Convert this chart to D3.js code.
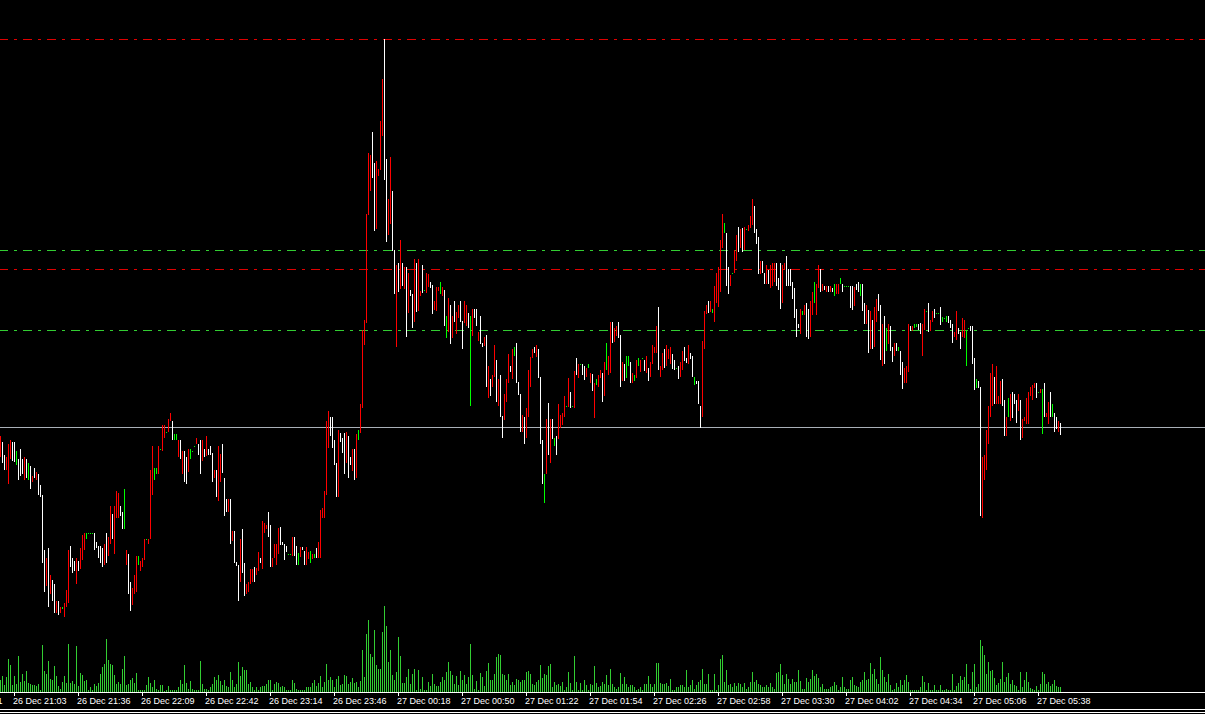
<!DOCTYPE html>
<html><head><meta charset="utf-8">
<script src="https://cdn.jsdelivr.net/npm/d3@7"></script>
<style>html,body{margin:0;padding:0;background:#000;overflow:hidden}</style>
</head><body><svg id="c" width="1205" height="714"></svg>
<script>
const highs = [
264,258,245,243,256,260,258,258,249,241, 251,241,243,241,237,234,224,232,228,226,
215,205,150,142,152,125,120,116,99,99, 93,93,97,110,150,154,142,139,142,139,
152,165,167,167,167,167,167,167,158,154, 154,152,156,167,163,194,186,194,209,207,
194,188,211,150,146,118,112,125,144,144, 139,142,161,161,161,230,254,232,232,254,
251,275,275,268,281,287,279,266,266,260, 260,249,249,243,251,251,249,254,262,256,
260,260,251,264,251,254,247,230,
230,254,246,256,222,201,201,201,169,169, 138,135,161,171,137,116,118,131,131,133,
132,148,142,179,177,175,188,175,142,156, 156,172,173,158,156,154,146,146,163,163,
154,147,153,153,149,153,148,149,146,146, 152,158,190,192,209,279,289,283,283,260,
237,270,267,262,267,268,264,243,251,251, 266,270,296,370,380,486,547,545,568,537,
539,531,579,621,661,541,501,543,509,450, 435,437,460,437,433,433,427,410,406,441,
437,441,409,435,410,427,426,
418,415,399,413,413,418,413,410,384,402, 395,384,399,388,395,399,379,399,395,387,
384,391,391,391,368,384,357,363,365,334, 321,325,355,340,321,325,284,306,321,346,
334,351,353,357,318,306,285,283,292,330, 343,351,353,355,351,323,260,226,281,297,
281,281,262,264,296,285,287,304,294,322, 308,294,329,342,336,336,336,334,332,336,
327,326,317,321,325,330,327,338,357,344, 378,378,372,374,378,365,338,336,344,344,
338,327,325,340,342,340,342,340,
344,332,338,355,353,374,393,334,347,351, 355,351,353,346,340,332,334,338,349,353,
342,355,347,344,323,319,319,294,359,389, 395,399,399,391,414,427,433,460,486,477,
467,433,425,427,450,465,473,471,472,473, 471,475,484,501,494,471,463,439,439,427,
435,430,435,437,437,437,422,437,435,437, 444,431,431,418,412,391,376,391,389,395,
397,391,399,408,418,416,435,431,416,414, 414,414,414,412,416,416,416,422,416,414,
414,414,414,414,413,416,418,
416,416,397,395,390,389,380,393,401,406, 395,376,384,372,376,374,353,357,357,353,
349,338,332,334,376,374,374,376,376,376, 377,376,391,389,397,380,389,391,387,387,
393,383,382,384,384,380,376,368,389,372, 368,382,380,370,372,374,374,342,321,319,
313,243,245,270,294,327,336,323,334,304, 319,321,300,283,302,306,308,306,300,306,
300,281,283,302,308,313,315,317,317,308, 311,311,317,287,298,308,296,287,283,279,277
];
const lows = [
244,238,231,231,217,242,240,239,236,221, 225,227,221,223,221,212,219,223,221,206,
204,138,109,115,94,107,100,88,88,86, 88,92,84,94,98,134,128,130,117,130,
132,141,151,162,167,167,167,151,153,143, 138,134,136,138,145,157,162,147,183,183,
185,172,172,136,107,90,96,107,109,136, 130,134,141,161,157,162,206,221,227,227,
251,250,263,268,269,280,261,261,261,244, 242,227,219,217,229,242,249,254,257,246,
227,240,244,245,246,246,219,223,
204,200,219,228,185,189,189,157,160,138, 135,100,119,128,105,107,109,117,119,119,
126,130,138,132,168,172,164,134,134,143, 136,147,156,156,141,149,146,146,145,145,
136,136,144,151,136,136,142,138,142,143, 143,143,143,183,183,206,253,265,253,236,
204,204,259,248,227,238,223,236,230,221, 223,261,268,293,356,378,486,510,523,470,
472,525,531,565,521,459,466,477,450,407, 354,409,412,415,412,364,388,405,373,379,
389,390,405,408,410,408,414,
413,387,391,390,410,407,405,375,363,369, 357,363,379,367,383,379,352,378,375,373,
295,365,383,375,360,357,354,355,314,303, 305,314,324,299,295,284,263,281,299,318,
329,322,345,318,306,269,269,257,263,284, 314,343,348,344,323,257,217,198,227,246,
238,262,255,246,262,273,276,284,294,294, 293,294,293,326,323,336,326,321,324,333,
318,310,283,316,314,323,299,305,331,326, 328,358,359,365,363,314,320,320,323,335,
318,318,320,323,335,329,342,330,
328,320,324,337,348,348,331,324,331,333, 335,342,337,332,331,332,322,324,331,340,
338,337,342,324,316,317,297,273,284,352, 387,388,389,388,379,398,394,409,453,468,
415,407,415,427,428,440,449,453,449,451, 471,470,473,476,468,457,427,427,428,417,
417,417,413,415,419,415,411,392,398,431, 415,415,415,402,383,364,373,367,386,386,
364,362,364,386,398,386,413,409,410,411, 409,409,409,409,405,407,407,417,409,414,
414,414,393,391,395,411,409,
405,390,377,377,348,352,352,354,379,390, 341,335,337,350,357,350,339,345,350,350,
326,312,318,318,329,370,370,373,374,371, 367,345,371,389,369,370,379,383,387,387,
376,379,382,379,378,373,358,364,361,367, 352,364,363,335,372,370,337,311,313,313,
185,183,221,231,257,284,295,297,297,297, 297,295,265,265,284,280,283,297,278,290,
261,263,280,277,277,305,301,313,303,308, 308,267,284,284,277,284,284,269,272,269,266
];
// u = up bar, d = down bar, n = unchanged (open == close)
const dirs = (
"udduuuddnd"+"ddudndudud"+"dddududdud"+"unuuudddud"+"uuunnnnddd"+"dduduuduuu"+"ddnudduuun"+"uuunuuunnu"+"nuunuudnnu"+"duddunnnud"+"dududddu"+
"duudddudud"+"ddudduuuud"+"uuduuudduu"+"uuddddnnud"+"dnudduunun"+"duuuuuuddd"+"duddduddud"+"unuuuuuudd"+"uuuudduudd"+"ududududdu"+"duudnuu"+
"dduuunudnu"+"duduudduud"+"nudduddudu"+"duududduuu"+"dunddduduu"+"uudu dddnud".replace(" ","")+"udnduuuunu"+"dnudunddun"+"udunuudunu"+"uduuddudnn"+"dununund"+
"uduuuuduud"+"uuuddnduud"+"duddnddduu"+"udunuuuuun"+"ddunuududu"+"nuuudddudd"+"uduuuddduu"+"dddddddunu"+"dduunuudud"+"ududnuundn"+"nnddudd"+
"nddududuud"+"dudnuddudn"+"dduuudunnd"+"duunduudnn"+"dnnnddduud"+"duunndddnd"+"duuuuuuduu"+"uddunudddu"+"duuuuuuudn"+"unduudnddu"+"d"
).split("");
const volumes = [
12,16,7,15,33,27,7,16,8,36, 10,18,11,21,9,8,7,7,6,8, 2,47,21,18,31,13,12,26,16,6, 3,10,16,9,48,9,11,8,46,6,
19,17,11,12,2,5,2,8,6,9, 18,25,28,53,32,28,27,17,8,10, 8,23,36,7,8,12,14,9,19,2, 2,2,2,7,15,9,5,12,3,2,
7,7,1,2,6,2,2,2,2,5, 12,8,27,9,3,11,3,2,2,2, 31,8,3,3,2,5,8,15,12,17, 11,7,12,6,5,20,12,5,8,30,
16,25,22,22,8,10,5,2,5,2, 5,6,6,8,12,12,2,8,10,9, 5,6,5,2,2,2,12,9,3,2, 2,2,2,5,5,5,9,12,6,9,
16,5,10,28,12,15,12,5,13,16, 7,8,17,16,8,10,14,9,10,5, 11,42,15,58,72,38,35,62,27,23, 23,60,86,66,30,42,17,12,20,55,
36,9,9,15,23,8,18,23,2,22, 3,15,2,2,10,6,18,8,6,6, 10,15,12,20,30,21,17,8,16,7, 21,12,17,8,15,48,17,3,11,2,
19,15,6,21,29,12,12,18,35,38, 37,18,17,12,18,7,10,7,13,12, 10,12,12,20,21,18,8,7,10,12, 27,14,18,17,26,28,5,10,7,8,
6,10,2,5,20,9,2,36,10,2, 9,2,12,7,2,8,7,26,9,5, 6,10,8,17,7,23,8,5,3,5, 19,8,15,8,5,7,7,5,2,3,
5,2,8,8,16,8,5,8,29,29, 9,8,8,9,6,13,2,2,5,5, 7,7,5,22,5,7,12,3,7,10, 12,23,8,8,18,2,2,18,2,7,
33,37,10,22,7,8,5,9,6,9, 8,5,9,3,5,10,20,10,12,8, 7,5,5,7,5,9,5,3,19,20, 28,17,8,18,13,8,13,10,10,22,
11,3,3,14,10,13,22,16,18,14, 5,8,3,3,3,5,6,10,7,2, 5,15,5,3,3,12,15,7,6,5, 10,12,20,12,13,29,18,23,13,8,
35,22,15,10,18,7,2,3,9,5, 12,7,12,17,10,2,2,2,2,2, 5,16,10,2,9,2,2,7,2,2, 7,2,2,3,2,2,18,2,6,9,
16,12,15,28,8,3,20,28,5,8, 52,46,37,18,30,21,22,14,7,9, 13,30,10,15,19,8,12,7,6,2, 20,5,12,20,10,4,3,2,6,2,
8,20,18,8,10,6,8,12,6,5,5
];
const tickLabels = ["26 Dec 20:31","26 Dec 21:03","26 Dec 21:36","26 Dec 22:09","26 Dec 22:42","26 Dec 23:14","26 Dec 23:46",
"27 Dec 00:18","27 Dec 00:50","27 Dec 01:22","27 Dec 01:54","27 Dec 02:26","27 Dec 02:58","27 Dec 03:30","27 Dec 04:02",
"27 Dec 04:34","27 Dec 05:06","27 Dec 05:38"];
const tickBars = [-25,7,39,71,103,135,167,199,231,263,295,327,359,391,423,455,487,519];
const resistanceLevels = [661, 431];
const supportLevels = [450, 370];
const bidPrice = 273;

console.log(highs.length, lows.length, dirs.length, volumes.length);

const W = 1205, H = 714;
const svg = d3.select("#c").attr("shape-rendering","crispEdges");
svg.append("rect").attr("width",W).attr("height",H).attr("fill","#000");

const x = d3.scaleLinear().domain([0, 602]).range([0, 1204]);
const y = d3.scaleLinear().domain([0, 700]).range([700, 0]);
const vy = d3.scaleLinear().domain([0, 100]).range([692, 592]);

const n = highs.length;
const idx = d3.range(n);

// volumes
svg.append("g").selectAll("rect").data(idx).join("rect")
  .attr("x", i => x(i)).attr("width", 1)
  .attr("y", i => vy(volumes[i])).attr("height", i => vy(0) - vy(volumes[i]))
  .attr("fill", "#32cd32");

// level lines
const dash = "9,6,3,6";
function hline(p, color, dashed) {
  svg.append("line").attr("x1",0).attr("x2",W)
    .attr("y1", y(p)+0.5).attr("y2", y(p)+0.5)
    .attr("stroke", color).attr("stroke-width",1)
    .attr("stroke-dasharray", dashed ? dash : null)
    .attr("stroke-dashoffset", dashed ? 1 : null);
}
hline(bidPrice, "#a9b0b8", false);
resistanceLevels.forEach(p => hline(p, "#e00000", true));
supportLevels.forEach(p => hline(p, "#32cd32", true));

// price bars
const colorOf = d => d === "u" ? "#ff0000" : d === "d" ? "#ffffff" : "#00ff00";
svg.append("g").selectAll("rect").data(idx).join("rect")
  .attr("x", i => x(i)).attr("width", 1)
  .attr("y", i => y(highs[i])).attr("height", i => y(lows[i]) - y(highs[i]) + 1)
  .attr("fill", i => colorOf(dirs[i]));

// time axis
const axis = d3.axisBottom(x).tickValues(tickBars)
  .tickFormat((d, i) => tickLabels[i]).tickSizeInner(4).tickSizeOuter(0);
const ag = svg.append("g").attr("transform","translate(0,692)").call(axis);
ag.select(".domain").attr("stroke","#fff").attr("d","M0,0.5H1205");
ag.selectAll(".tick line").attr("stroke","#fff");
ag.selectAll(".tick text").attr("fill","#fff").attr("text-anchor","start")
  .attr("dx", -1.5).attr("y", 6).attr("dy","0.71em")
  .style("font-family","'Liberation Sans', Arial, sans-serif").style("font-size","9px");

// bottom frame lines
svg.append("rect").attr("x",0).attr("y",709).attr("width",W).attr("height",1).attr("fill","#fff");
svg.append("rect").attr("x",0).attr("y",712).attr("width",W).attr("height",1).attr("fill","#fff");
</script></body></html>
